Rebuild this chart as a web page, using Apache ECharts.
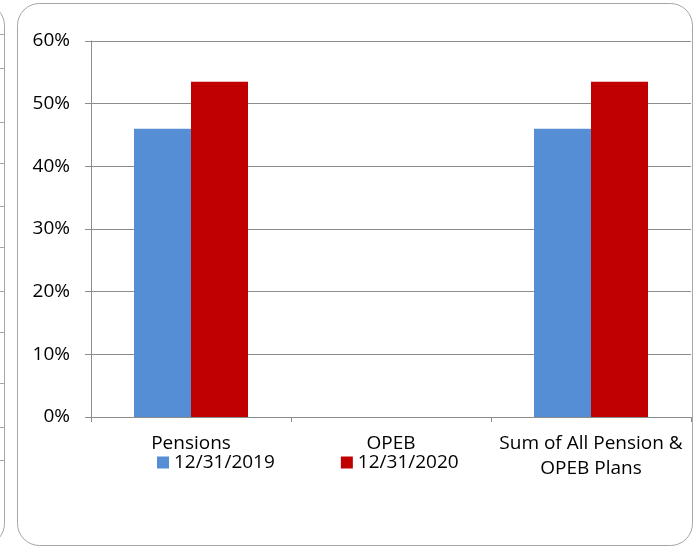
<!DOCTYPE html>
<html>
<head>
<meta charset="utf-8">
<script src="https://cdn.jsdelivr.net/npm/echarts@6/dist/echarts.min.js"></script>
<style>
html,body{margin:0;padding:0;background:#fff;}
#chart{width:698px;height:548px;}
</style>
</head>
<body>
<div id="chart"></div>
<script>
var categories = ['Pensions', 'OPEB', 'Sum of All Pension &\nOPEB Plans'];
var seriesNames = ['12/31/2019', '12/31/2020'];
var values2019 = [46, 0, 46];
var values2020 = [53.5, 0, 53.5];
var yTicks = [0, 10, 20, 30, 40, 50, 60];

var FONT = 'Open Sans';
var chart = echarts.init(document.getElementById('chart'), null, {renderer: 'canvas'});

var stubYs = [34, 68, 122, 163, 206, 247, 291, 332, 383, 427, 460];
var graphics = [
  {type: 'rect', shape: {x: 17.5, y: 3.5, width: 675, height: 542, r: 22},
   style: {fill: 'none', stroke: '#a6a6a6', lineWidth: 1}, z: -1},
  {type: 'rect', shape: {x: -680, y: 3.5, width: 684.5, height: 542, r: 22},
   style: {fill: 'none', stroke: '#a6a6a6', lineWidth: 1}, z: -1}
];
stubYs.forEach(function (y) {
  graphics.push({type: 'line', shape: {x1: 0, y1: y + 0.5, x2: 4, y2: y + 0.5},
    style: {stroke: '#a6a6a6', lineWidth: 1}, z: -1});
});

chart.setOption({
  animation: false,
  backgroundColor: '#ffffff',
  textStyle: {fontFamily: FONT},
  graphic: graphics,
  grid: {left: 91, right: 7, top: 41, bottom: 131, containLabel: false},
  legend: {
    data: seriesNames,
    left: 152, top: 448,
    itemWidth: 12, itemHeight: 12, itemGap: 66,
    icon: 'rect',
    textStyle: {fontFamily: FONT, fontSize: 19, color: '#000'}
  },
  xAxis: {
    type: 'category',
    data: categories,
    axisLine: {show: true, lineStyle: {color: '#8c8c8c', width: 1}},
    axisTick: {show: true, alignWithLabel: false, length: 5, inside: false, lineStyle: {color: '#8c8c8c'}},
    axisLabel: {fontFamily: FONT, fontSize: 19, color: '#000', margin: 14, lineHeight: 25, interval: 0}
  },
  yAxis: {
    type: 'value',
    min: yTicks[0], max: yTicks[yTicks.length - 1], interval: 10,
    axisLine: {show: true, lineStyle: {color: '#8c8c8c', width: 1}},
    axisTick: {show: true, length: 6, lineStyle: {color: '#8c8c8c'}},
    splitLine: {show: true, lineStyle: {color: '#8c8c8c', width: 1}},
    axisLabel: {fontFamily: FONT, fontSize: 19, color: '#000', margin: 21,
      formatter: function (v) { return v + '%'; }}
  },
  series: [
    {name: seriesNames[0], type: 'bar', data: values2019, barGap: '0%', barCategoryGap: '43%',
     itemStyle: {color: '#558ed5'}},
    {name: seriesNames[1], type: 'bar', data: values2020, barGap: '0%', barCategoryGap: '43%',
     itemStyle: {color: '#c00000'}}
  ]
});
</script>
</body>
</html>
